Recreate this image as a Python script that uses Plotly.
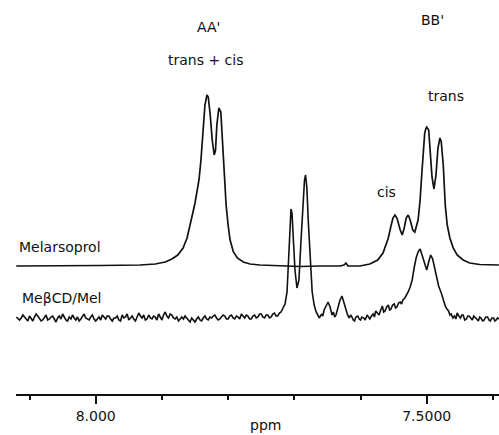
import plotly.graph_objects as go

# ---------------- data (ppm, intensity in a.u. above own baseline) ----------------
melarsoprol = [
    (8.120, -1), (8.054, -1), (7.9935, -0.5), (7.933, 0), (7.910, 1), (7.895, 3),
    (7.885, 6), (7.876, 10), (7.868, 17), (7.862, 27), (7.858, 40), (7.853, 53),
    (7.850, 62), (7.847, 72), (7.844, 85), (7.841, 105), (7.838, 135), (7.835, 160),
    (7.832, 170), (7.830, 168), (7.827, 150), (7.824, 125), (7.821, 110), (7.819, 115),
    (7.817, 140), (7.814, 157), (7.811, 153), (7.809, 130), (7.806, 90), (7.803, 60),
    (7.800, 40), (7.797, 25), (7.792, 13), (7.786, 7), (7.777, 3), (7.767, 1),
    (7.752, 0), (7.722, -1), (7.691, -1.5), (7.661, -1), (7.631, -1), (7.625, 0),
    (7.622, 2), (7.619, -1), (7.601, -1), (7.586, 1), (7.574, 5), (7.566, 12),
    (7.558, 27), (7.554, 39), (7.551, 47), (7.548, 50), (7.545, 47), (7.540, 35),
    (7.537, 30), (7.534, 37), (7.531, 47), (7.528, 50), (7.525, 45), (7.521, 35),
    (7.518, 33), (7.513, 45), (7.510, 65), (7.507, 95), (7.506, 105), (7.504, 122),
    (7.503, 132), (7.501, 137), (7.500, 138), (7.497, 135), (7.495, 115), (7.492, 88),
    (7.489, 76), (7.486, 90), (7.483, 117), (7.480, 127), (7.478, 123), (7.475, 100),
    (7.472, 60), (7.469, 40), (7.465, 27), (7.460, 17), (7.454, 10), (7.445, 5),
    (7.435, 2), (7.420, 0.5), (7.391, 0),
]

mecd_baseline = [
    (8.1200, 1), (8.1175, -1), (8.1150, -2), (8.1125, 0), (8.1100, 3), (8.1075, 1),
    (8.1050, -1), (8.1025, -3), (8.1000, 2), (8.0975, 0), (8.0950, -3), (8.0925, 1),
    (8.0900, 4), (8.0875, 2), (8.0850, 0), (8.0825, -3), (8.0800, -2), (8.0775, 1),
    (8.0750, 3), (8.0725, -2), (8.0700, -1), (8.0675, 1), (8.0650, 2), (8.0625, -1),
    (8.0600, -4), (8.0575, 0), (8.0550, 2), (8.0525, -1), (8.0500, 4), (8.0475, 1),
    (8.0450, -2), (8.0425, -3), (8.0400, 1), (8.0375, -1), (8.0350, 3), (8.0325, 0),
    (8.0300, -2), (8.0275, 1), (8.0250, -3), (8.0225, -1), (8.0200, 2), (8.0175, 4),
    (8.0150, 0), (8.0125, -1), (8.0100, -2), (8.0075, 1), (8.0050, 3), (8.0025, -1),
    (8.0000, -3), (7.9975, -1), (7.9950, 1), (7.9925, -2), (7.9900, 3), (7.9875, 1),
    (7.9850, -1), (7.9825, 2), (7.9800, 2), (7.9775, -1), (7.9750, -3), (7.9725, 0),
    (7.9700, 0), (7.9675, 2), (7.9650, -2), (7.9625, -3), (7.9600, 3), (7.9575, 0),
    (7.9550, 1), (7.9525, 4), (7.9500, -2), (7.9475, 0), (7.9450, 2), (7.9425, -1),
    (7.9400, -3), (7.9375, 1), (7.9350, 5), (7.9325, 2), (7.9300, 0), (7.9275, 3),
    (7.9250, -2), (7.9225, -1), (7.9200, 3), (7.9175, 0), (7.9150, -1), (7.9125, 2),
    (7.9100, 1), (7.9075, -2), (7.9050, 4), (7.9025, 1), (7.9000, -2), (7.8975, 3),
    (7.8950, 6), (7.8925, 2), (7.8900, 0), (7.8875, 4), (7.8850, 3), (7.8825, 0),
    (7.8800, -1), (7.8775, 1), (7.8750, -3), (7.8725, -1), (7.8700, 1), (7.8675, -1),
    (7.8650, 2), (7.8625, 0), (7.8600, -2), (7.8575, -4), (7.8550, 0), (7.8525, -2),
    (7.8500, -4), (7.8475, -1), (7.8450, 1), (7.8425, -2), (7.8400, -3), (7.8375, 0),
    (7.8350, 2), (7.8325, -1), (7.8300, -2), (7.8275, 1), (7.8250, 0), (7.8225, 2),
    (7.8200, 3), (7.8175, 0), (7.8150, -2), (7.8125, -1), (7.8100, 1), (7.8075, 3),
    (7.8050, 2), (7.8025, -1), (7.8000, -1), (7.7975, 2), (7.7950, 3), (7.7925, 0),
    (7.7900, -1), (7.7875, 2), (7.7850, 1), (7.7825, -1), (7.7800, 4), (7.7775, 2),
    (7.7750, 0), (7.7725, 3), (7.7700, 2), (7.7675, -1), (7.7650, -1), (7.7625, 2),
    (7.7600, 3), (7.7575, 0), (7.7550, 1), (7.7525, 4), (7.7500, 4), (7.7475, 1),
    (7.7450, 0), (7.7425, 3), (7.7400, 3), (7.7375, 0), (7.7350, 1), (7.7325, 4),
    (7.7300, 5), (7.7275, 2), (7.7250, 2), (7.7225, 5), (7.7200, 6),
]

mecd_doublet = [
    (7.717, 10), (7.714, 14), (7.711, 26), (7.708, 63), (7.7065, 93), (7.705, 109),
    (7.7035, 105), (7.702, 83), (7.699, 48), (7.696, 30), (7.693, 38), (7.690, 76),
    (7.687, 113), (7.6846, 138), (7.683, 143), (7.681, 130), (7.679, 98), (7.676, 56),
    (7.673, 26), (7.670, 13), (7.667, 6), (7.6645, 3), (7.662, 0), (7.659, 4),
    (7.657, 2), (7.655, 8), (7.652, 12), (7.649, 16), (7.646, 11), (7.643, 3),
    (7.641, 6), (7.639, 1), (7.637, 3), (7.634, 10), (7.631, 18), (7.628, 22),
    (7.625, 15), (7.622, 7), (7.6195, 3), (7.617, 0), (7.615, 3), (7.613, 1),
    (7.611, -2), (7.609, -3), (7.607, 1), (7.604, 2), (7.602, -1), (7.600, -2),
    (7.598, 1), (7.595, 0), (7.593, -2), (7.590, 3), (7.588, 1), (7.586, -1),
]

mecd_bb = [
    (7.5835, 2), (7.581, 4), (7.579, 1), (7.577, 7), (7.5745, 5), (7.572, 3),
    (7.5695, 8), (7.567, 12), (7.565, 6), (7.563, 7), (7.5605, 11), (7.558, 13),
    (7.556, 8), (7.554, 9), (7.5515, 13), (7.549, 14), (7.547, 10), (7.545, 11),
    (7.5425, 15), (7.540, 16), (7.538, 14), (7.536, 18), (7.533, 20), (7.531, 22),
    (7.528, 26), (7.525, 31), (7.522, 38), (7.519, 50), (7.516, 60), (7.513, 66),
    (7.510, 69), (7.507, 63), (7.504, 56), (7.501, 50), (7.500, 48), (7.497, 56),
    (7.494, 63), (7.491, 59), (7.488, 51), (7.485, 41), (7.482, 32), (7.478, 25),
    (7.475, 18), (7.472, 12), (7.4695, 9), (7.467, 7), (7.465, 3), (7.463, 4),
    (7.4605, 0), (7.458, 2), (7.456, -1), (7.454, 5), (7.4515, 2), (7.449, 0),
    (7.447, 3), (7.445, 3), (7.4425, -2), (7.440, -1), (7.438, 2), (7.436, 2),
    (7.4335, 0), (7.431, -2), (7.429, 2), (7.427, 1), (7.4245, -1), (7.422, -3),
    (7.420, 1), (7.418, 0), (7.4155, -3), (7.413, -2), (7.411, 1), (7.408, 1),
    (7.406, -2), (7.404, -3), (7.4015, 0), (7.399, 0), (7.397, -3), (7.395, -2),
    (7.393, 0), (7.391, -1),
]

tick_vals = [8.0, 7.5]
tick_text = ["8.000", "7.5000"]

# ---------------- styling / layout constants ----------------
MEL_OFFSET = 129
CD_OFFSET = 76
LINE = "#111111"
FONT = dict(family="DejaVu Sans", size=14, color="#111111")


def unzip(pairs, offset):
    xs = [p[0] for p in pairs]
    ys = [p[1] + offset for p in pairs]
    return xs, ys


mx, my = unzip(melarsoprol, MEL_OFFSET)
cd_pairs = mecd_baseline + mecd_doublet + mecd_bb
cx, cy = unzip(cd_pairs, CD_OFFSET)

fig = go.Figure()
fig.add_trace(go.Scatter(x=mx, y=my, mode="lines",
                         line=dict(color=LINE, width=1.7), hoverinfo="skip"))
fig.add_trace(go.Scatter(x=cx, y=cy, mode="lines",
                         line=dict(color=LINE, width=1.6), hoverinfo="skip"))

labels = [
    ("AA'", 7.829, 367, "center"),
    ("trans + cis", 7.833, 334, "center"),
    ("BB'", 7.492, 374, "center"),
    ("trans", 7.471, 298, "center"),
    ("cis", 7.560, 202, "center"),
    ("Melarsoprol", 8.119, 147, "left"),
    ("MeβCD/Mel", 8.114, 96, "left"),
]
for txt, x, y, anc in labels:
    fig.add_annotation(x=x, y=y, text=txt, showarrow=False, xanchor=anc,
                       yanchor="middle", font=FONT)

fig.add_annotation(x=7.744, y=-31 / 394, yref="paper", text="ppm",
                   showarrow=False, xanchor="center", yanchor="middle",
                   font=FONT)

fig.update_layout(
    width=499, height=435,
    margin=dict(l=16, r=0, t=0, b=41),
    paper_bgcolor="white", plot_bgcolor="white",
    showlegend=False,
    xaxis=dict(range=[8.1204, 7.3908], showgrid=False, zeroline=False,
               showline=True, linecolor="#111", linewidth=2,
               ticks="outside", ticklen=8, tickwidth=2, tickcolor="#111",
               tickvals=tick_vals, ticktext=tick_text, tickfont=FONT,
               minor=dict(dtick=0.1, ticks="outside", ticklen=4,
                          tickwidth=1.5, tickcolor="#111")),
    yaxis=dict(range=[0, 394], visible=False, showgrid=False, zeroline=False),
)

fig.write_html("out.html", config={"displayModeBar": False},
               post_script="document.body.style.margin='0';document.body.style.padding='0';")
